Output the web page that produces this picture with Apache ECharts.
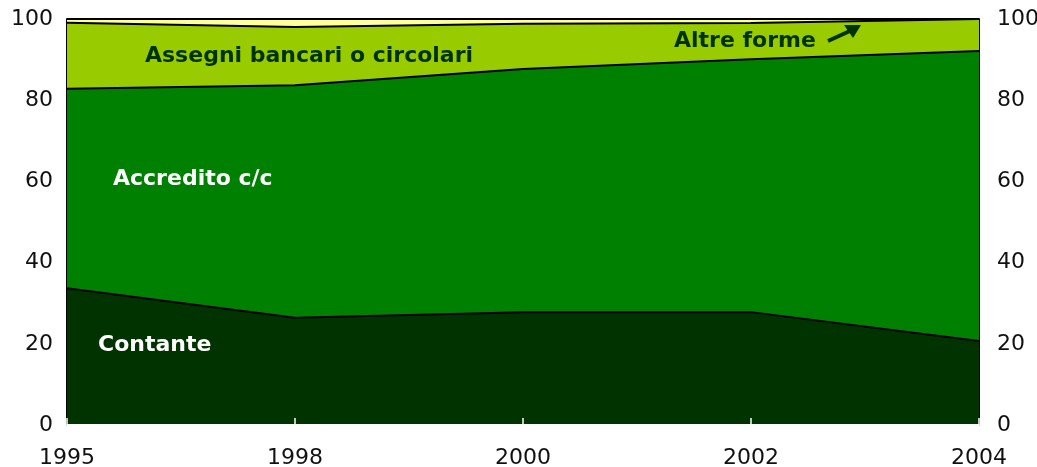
<!DOCTYPE html>
<html>
<head>
<meta charset="utf-8">
<script src="https://cdn.jsdelivr.net/npm/echarts@6/dist/echarts.min.js"></script>
<style>
  html, body { margin: 0; padding: 0; background: #fff; }
  #chart { width: 1037px; height: 467px; }
</style>
</head>
<body>
<div id="chart"></div>
<script>
const years = ['1995', '1998', '2000', '2002', '2004']
const contante = [33.7, 26.4, 27.8, 27.8, 20.7]
const accredito = [49.1, 57.3, 59.9, 62.3, 71.4]
const assegni = [16.3, 14.3, 11.1, 8.9, 7.9]
const altreForme = [0.9, 2.0, 1.2, 1.0, 0.0]

const tickFont = { fontFamily: 'DejaVu Sans', fontSize: 22, color: '#111' }
const labelFont = 'bold 22px "DejaVu Sans"'

const yAxisBase = {
  type: 'value',
  min: 0,
  max: 100,
  interval: 20,
  splitLine: { show: false },
  axisLine: { show: true, lineStyle: { color: '#000', width: 2 } },
  axisTick: { show: true, inside: true, length: 6, lineStyle: { color: '#000', width: 1.5 } }
}

const makeSeries = (name, data, color) => ({
  name: name,
  type: 'line',
  stack: 'total',
  data: data,
  symbol: 'none',
  lineStyle: { color: '#000', width: 2 },
  areaStyle: { color: color, opacity: 1 },
  emphasis: { disabled: true }
})

const option = {
  animation: false,
  grid: { left: 67, right: 58, top: 19, bottom: 42, containLabel: false, outerBoundsMode: 'none' },
  xAxis: {
    type: 'category',
    data: years,
    boundaryGap: false,
    axisLine: { show: true, lineStyle: { color: '#fff', width: 2 } },
    axisTick: { show: true, inside: true, length: 7, lineStyle: { color: '#fff', width: 1.5 } },
    axisLabel: Object.assign({ margin: 22 }, tickFont),
    z: 5
  },
  yAxis: [
    Object.assign({ position: 'left', axisLabel: Object.assign({ margin: 14 }, tickFont) }, yAxisBase),
    Object.assign({ position: 'right', axisLabel: Object.assign({ margin: 18 }, tickFont) }, yAxisBase)
  ],
  series: [
    makeSeries('Contante', contante, '#003300'),
    makeSeries('Accredito c/c', accredito, '#008000'),
    makeSeries('Assegni bancari o circolari', assegni, '#99cc00'),
    makeSeries('Altre forme', altreForme, '#ffff99')
  ],
  graphic: [
    { type: 'text', left: 145, top: 45, z: 10, style: { text: 'Assegni bancari o circolari', font: labelFont, fill: '#003300' } },
    { type: 'text', left: 113, top: 168, z: 10, style: { text: 'Accredito c/c', font: labelFont, fill: '#fff' } },
    { type: 'text', left: 98, top: 334, z: 10, style: { text: 'Contante', font: labelFont, fill: '#fff' } },
    { type: 'text', left: 674, top: 30, z: 10, style: { text: 'Altre forme', font: labelFont, fill: '#003300' } },
    { type: 'line', z: 10, shape: { x1: 828, y1: 41, x2: 852, y2: 30 }, style: { stroke: '#003300', lineWidth: 4 } },
    { type: 'polygon', z: 10, shape: { points: [[861, 25], [844, 25], [853, 38]] }, style: { fill: '#003300' } }
  ]
}

const myChart = echarts.init(document.getElementById('chart'))
option && myChart.setOption(option)
</script>
</body>
</html>
